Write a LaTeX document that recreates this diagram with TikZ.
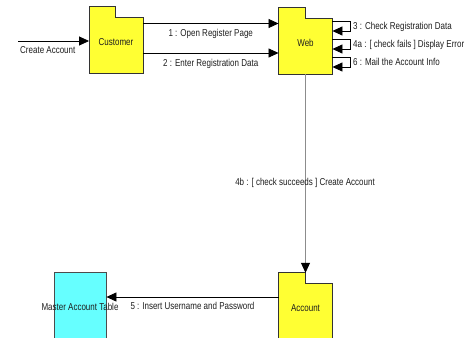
\documentclass[tikz,border=0pt]{standalone}
\usepackage{fontspec}
\setmainfont{Liberation Sans}[FakeStretch=0.8]
\usetikzlibrary{arrows.meta}
\definecolor{yellowfill}{RGB}{255,255,51}
\definecolor{cyanfill}{RGB}{102,255,255}
\definecolor{textgray}{RGB}{30,30,30}
\begin{document}
\begin{tikzpicture}[x=1pt,y=-1pt,
  font=\fontsize{10}{11}\selectfont,
  box/.style={inner sep=0pt, minimum width=53.5pt, minimum height=66pt},
  folder/.style={draw=black!80, fill=yellowfill, line width=0.8pt},
  msg/.style={draw=black, line width=0.8pt, -{Triangle[length=10pt,width=9pt,color=black]}},
  lbl/.style={inner sep=0pt, text=textgray}]
\useasboundingbox (0,0) rectangle (465,337);
\fill[white] (0,0) rectangle (465,337);
\clip (0,0) rectangle (465,337);

% invisible frames of the objects
\node[box] (cust) at (116,40) {};
\node[box] (web) at (305.5,41) {};
\node[box] (acc) at (305.5,306) {};
\node[box, minimum width=52pt, draw=black!70, fill=cyanfill, line width=0.8pt] (mat) at (80,305.5) {};

% folder outlines
\foreach \n in {cust,web,acc}{
  \filldraw[folder] (\n.south west) -- (\n.north west) -- ++(26.5,0) -- ++(0,11)
     -| (\n.south east) -- cycle;
}

% object names
\node[lbl] (custt) at ([yshift=-2pt]cust.center) {Customer};
\node[lbl] (webt) at ([yshift=-2pt]web.center) {Web};
\node[lbl] (acct) at ([yshift=-2pt]acc.center) {Account};
\node[lbl] (matt) at ([yshift=-1.5pt]mat.center) {Master Account Table};

% create account
\coordinate (start) at (18,41);
\draw[msg] (start) -- (start -| cust.west);
\node[lbl, anchor=base west] (calbl) at (20,53.8) {Create Account};

% messages 1 and 2
\coordinate (c1) at ([yshift=16.5pt]cust.east);
\coordinate (c2) at ([yshift=-13pt]cust.east);
\draw[msg] (c1) -- (c1 -| web.west)
  node[lbl, midway, anchor=base, yshift=-13.3pt] (l1) {1 : Open Register Page};
\draw[msg] (c2) -- (c2 -| web.west)
  node[lbl, midway, anchor=base, yshift=-13.5pt] (l2) {2 : Enter Registration Data};

% self messages
\coordinate (s1a) at ([yshift=20pt]web.east);
\coordinate (s1b) at ([yshift=10pt]web.east);
\coordinate (s2a) at ([yshift=2pt]web.east);
\coordinate (s2b) at ([yshift=-8pt]web.east);
\coordinate (s3a) at ([yshift=-16pt]web.east);
\coordinate (s3b) at ([yshift=-26pt]web.east);
\draw[msg] (s1a) -- ++(18,0) |- (s1b);
\draw[msg] (s2a) -- ++(18,0) |- (s2b);
\draw[msg] (s3a) -- ++(18,0) |- (s3b);
\node[lbl, anchor=base west] (l3) at (353,29.5) {3 : Check Registration Data};
\node[lbl, anchor=base west] (l4a) at (353,47.5) {4a : [ check fails ] Display Error};
\node[lbl, anchor=base west] (l6) at (353,66) {6 : Mail the Account Info};

% 4b
\draw[msg, draw=black!45] (web.south) -- (acc.north);
\node[lbl] (l4b) at (305,183) {4b : [ check succeeds ] Create Account};

% 5
\coordinate (c5) at ([yshift=9pt]acc.west);
\draw[msg] (c5) -- (c5 -| mat.east)
  node[lbl, midway, anchor=base, yshift=-12.8pt] (l5) {5 : Insert Username and Password};
\end{tikzpicture}
\end{document}
